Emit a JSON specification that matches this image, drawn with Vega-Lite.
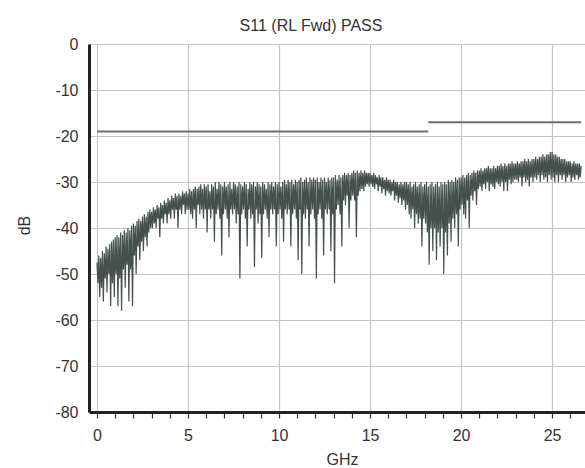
{
"$schema": "https://vega.github.io/schema/vega-lite/v6.json",
"width": 496, "height": 368,
"autosize": {"type": "none"},
"padding": {"left": 89, "top": 44, "right": 0, "bottom": 56},
"background": "white",
"title": {"text": "S11 (RL Fwd) PASS", "font": "Liberation Sans", "fontSize": 16, "fontWeight": "normal", "color": "#333", "dx": -26, "offset": 2},
"config": {"view": {"stroke": null}},
"datasets": {
"trace": [
{"f":0.00,"db":-47.5},{"f":0.05,"db":-52},{"f":0.10,"db":-46},{"f":0.15,"db":-55},{"f":0.20,"db":-46.5},{"f":0.25,"db":-53},{"f":0.30,"db":-45},{"f":0.35,"db":-56},{"f":0.40,"db":-45.5},{"f":0.45,"db":-51},{"f":0.50,"db":-44},{"f":0.55,"db":-54},{"f":0.60,"db":-44.5},{"f":0.65,"db":-50},{"f":0.70,"db":-43.5},{"f":0.75,"db":-57},{"f":0.80,"db":-43},{"f":0.85,"db":-52},{"f":0.90,"db":-42.5},{"f":0.95,"db":-55},
{"f":1.00,"db":-42},{"f":1.05,"db":-50},{"f":1.10,"db":-41.5},{"f":1.15,"db":-57},{"f":1.20,"db":-42},{"f":1.25,"db":-51},{"f":1.30,"db":-41},{"f":1.35,"db":-58},{"f":1.40,"db":-41.5},{"f":1.45,"db":-49},{"f":1.50,"db":-40.5},{"f":1.55,"db":-53},{"f":1.60,"db":-41},{"f":1.65,"db":-48},{"f":1.70,"db":-40},{"f":1.75,"db":-56},{"f":1.80,"db":-40.5},{"f":1.85,"db":-49},{"f":1.90,"db":-39.5},{"f":1.95,"db":-57},
{"f":2.00,"db":-39},{"f":2.05,"db":-46},{"f":2.10,"db":-39.5},{"f":2.15,"db":-50},{"f":2.20,"db":-38.5},{"f":2.25,"db":-44},{"f":2.30,"db":-38},{"f":2.35,"db":-47},{"f":2.40,"db":-38.5},{"f":2.45,"db":-43},{"f":2.50,"db":-37.5},{"f":2.55,"db":-45},{"f":2.60,"db":-37},{"f":2.65,"db":-42},{"f":2.70,"db":-37.5},{"f":2.75,"db":-44},{"f":2.80,"db":-36.5},{"f":2.85,"db":-41},{"f":2.90,"db":-36},{"f":2.95,"db":-40},
{"f":3.00,"db":-36.5},{"f":3.05,"db":-40},{"f":3.10,"db":-35.5},{"f":3.15,"db":-39},{"f":3.20,"db":-36},{"f":3.25,"db":-40},{"f":3.30,"db":-35},{"f":3.35,"db":-38},{"f":3.40,"db":-35.5},{"f":3.45,"db":-42},{"f":3.50,"db":-34.5},{"f":3.55,"db":-38},{"f":3.60,"db":-35},{"f":3.65,"db":-39},{"f":3.70,"db":-34},{"f":3.75,"db":-37},{"f":3.80,"db":-34.5},{"f":3.85,"db":-39},{"f":3.90,"db":-33.5},{"f":3.95,"db":-37},
{"f":4.00,"db":-34},{"f":4.05,"db":-38},{"f":4.10,"db":-33},{"f":4.15,"db":-36},{"f":4.20,"db":-33.5},{"f":4.25,"db":-38},{"f":4.30,"db":-32.5},{"f":4.35,"db":-36},{"f":4.40,"db":-33},{"f":4.45,"db":-40},{"f":4.50,"db":-32.5},{"f":4.55,"db":-36},{"f":4.60,"db":-33},{"f":4.65,"db":-37},{"f":4.70,"db":-32},{"f":4.75,"db":-35},{"f":4.80,"db":-32.5},{"f":4.85,"db":-37},{"f":4.90,"db":-32},{"f":4.95,"db":-36},
{"f":5.00,"db":-32.5},{"f":5.05,"db":-36},{"f":5.10,"db":-31.5},{"f":5.15,"db":-37},{"f":5.20,"db":-32},{"f":5.25,"db":-38},{"f":5.30,"db":-31.5},{"f":5.35,"db":-36},{"f":5.40,"db":-31},{"f":5.45,"db":-40},{"f":5.50,"db":-31.5},{"f":5.55,"db":-35},{"f":5.60,"db":-31},{"f":5.65,"db":-37},{"f":5.70,"db":-30.5},{"f":5.75,"db":-36},{"f":5.80,"db":-31.5},{"f":5.85,"db":-38},{"f":5.90,"db":-30.5},{"f":5.95,"db":-36},
{"f":6.00,"db":-31},{"f":6.05,"db":-41},{"f":6.10,"db":-30.5},{"f":6.15,"db":-36},{"f":6.20,"db":-32},{"f":6.25,"db":-38},{"f":6.30,"db":-30.5},{"f":6.35,"db":-36},{"f":6.40,"db":-31},{"f":6.45,"db":-43},{"f":6.50,"db":-30},{"f":6.55,"db":-37},{"f":6.60,"db":-31.5},{"f":6.65,"db":-36},{"f":6.70,"db":-30},{"f":6.75,"db":-38},{"f":6.80,"db":-30.5},{"f":6.85,"db":-46},{"f":6.90,"db":-31},{"f":6.95,"db":-37},
{"f":7.00,"db":-30},{"f":7.05,"db":-36},{"f":7.10,"db":-31},{"f":7.15,"db":-38},{"f":7.20,"db":-30.5},{"f":7.25,"db":-42},{"f":7.30,"db":-30},{"f":7.35,"db":-36},{"f":7.40,"db":-31.5},{"f":7.45,"db":-37},{"f":7.50,"db":-30},{"f":7.55,"db":-36},{"f":7.60,"db":-30.5},{"f":7.65,"db":-39},{"f":7.70,"db":-31},{"f":7.75,"db":-37},{"f":7.80,"db":-30},{"f":7.85,"db":-51},{"f":7.90,"db":-30.5},{"f":7.95,"db":-37},
{"f":8.00,"db":-31},{"f":8.05,"db":-36},{"f":8.10,"db":-30},{"f":8.15,"db":-38},{"f":8.20,"db":-30.5},{"f":8.25,"db":-44},{"f":8.30,"db":-31.5},{"f":8.35,"db":-36},{"f":8.40,"db":-30},{"f":8.45,"db":-38},{"f":8.50,"db":-30.5},{"f":8.55,"db":-37},{"f":8.60,"db":-30},{"f":8.65,"db":-48.5},{"f":8.70,"db":-31},{"f":8.75,"db":-36},{"f":8.80,"db":-30},{"f":8.85,"db":-39},{"f":8.90,"db":-30.5},{"f":8.95,"db":-37},
{"f":9.00,"db":-31},{"f":9.05,"db":-46.5},{"f":9.10,"db":-30},{"f":9.15,"db":-37},{"f":9.20,"db":-30.5},{"f":9.25,"db":-36},{"f":9.30,"db":-31.5},{"f":9.35,"db":-38},{"f":9.40,"db":-30},{"f":9.45,"db":-42},{"f":9.50,"db":-30.5},{"f":9.55,"db":-36},{"f":9.60,"db":-30},{"f":9.65,"db":-37},{"f":9.70,"db":-31},{"f":9.75,"db":-36},{"f":9.80,"db":-30},{"f":9.85,"db":-44},{"f":9.90,"db":-30.5},{"f":9.95,"db":-37},
{"f":10.00,"db":-30},{"f":10.05,"db":-36},{"f":10.10,"db":-31},{"f":10.15,"db":-38},{"f":10.20,"db":-30},{"f":10.25,"db":-43},{"f":10.30,"db":-29.5},{"f":10.35,"db":-36},{"f":10.40,"db":-30.5},{"f":10.45,"db":-37},{"f":10.50,"db":-29.5},{"f":10.55,"db":-36},{"f":10.60,"db":-30},{"f":10.65,"db":-44},{"f":10.70,"db":-29.5},{"f":10.75,"db":-37},{"f":10.80,"db":-30.5},{"f":10.85,"db":-36},{"f":10.90,"db":-29.5},{"f":10.95,"db":-38},
{"f":11.00,"db":-30},{"f":11.05,"db":-47},{"f":11.10,"db":-29.5},{"f":11.15,"db":-36},{"f":11.20,"db":-29},{"f":11.25,"db":-50},{"f":11.30,"db":-30},{"f":11.35,"db":-37},{"f":11.40,"db":-29.5},{"f":11.45,"db":-38},{"f":11.50,"db":-29},{"f":11.55,"db":-36},{"f":11.60,"db":-30},{"f":11.65,"db":-44},{"f":11.70,"db":-29},{"f":11.75,"db":-37},{"f":11.80,"db":-29.5},{"f":11.85,"db":-36},{"f":11.90,"db":-29},{"f":11.95,"db":-38},
{"f":12.00,"db":-29.5},{"f":12.05,"db":-51},{"f":12.10,"db":-29},{"f":12.15,"db":-37},{"f":12.20,"db":-30},{"f":12.25,"db":-36},{"f":12.30,"db":-29},{"f":12.35,"db":-38},{"f":12.40,"db":-29.5},{"f":12.45,"db":-46},{"f":12.50,"db":-29},{"f":12.55,"db":-36},{"f":12.60,"db":-30},{"f":12.65,"db":-37},{"f":12.70,"db":-29},{"f":12.75,"db":-36},{"f":12.80,"db":-29.5},{"f":12.85,"db":-45},{"f":12.90,"db":-29},{"f":12.95,"db":-37},
{"f":13.00,"db":-29},{"f":13.05,"db":-52},{"f":13.10,"db":-28.5},{"f":13.15,"db":-36},{"f":13.20,"db":-29.5},{"f":13.25,"db":-35},{"f":13.30,"db":-28.5},{"f":13.35,"db":-37},{"f":13.40,"db":-29},{"f":13.45,"db":-44},{"f":13.50,"db":-28.5},{"f":13.55,"db":-34},{"f":13.60,"db":-28},{"f":13.65,"db":-35},{"f":13.70,"db":-28.5},{"f":13.75,"db":-33},{"f":13.80,"db":-28},{"f":13.85,"db":-40},{"f":13.90,"db":-28.5},{"f":13.95,"db":-34},
{"f":14.00,"db":-28},{"f":14.05,"db":-33},{"f":14.10,"db":-27.5},{"f":14.15,"db":-34},{"f":14.20,"db":-28},{"f":14.25,"db":-42},{"f":14.30,"db":-27.5},{"f":14.35,"db":-33},{"f":14.40,"db":-28},{"f":14.45,"db":-32},{"f":14.50,"db":-27.5},{"f":14.55,"db":-31.5},{"f":14.60,"db":-28},{"f":14.65,"db":-32},{"f":14.70,"db":-27.5},{"f":14.75,"db":-31},{"f":14.80,"db":-28},{"f":14.85,"db":-30.5},{"f":14.90,"db":-28},{"f":14.95,"db":-31},
{"f":15.00,"db":-28},{"f":15.05,"db":-30.5},{"f":15.10,"db":-28.5},{"f":15.15,"db":-31},{"f":15.20,"db":-28},{"f":15.25,"db":-31.5},{"f":15.30,"db":-28.5},{"f":15.35,"db":-30.5},{"f":15.40,"db":-29},{"f":15.45,"db":-32},{"f":15.50,"db":-28.5},{"f":15.55,"db":-31},{"f":15.60,"db":-29},{"f":15.65,"db":-32.5},{"f":15.70,"db":-29},{"f":15.75,"db":-31.5},{"f":15.80,"db":-29.5},{"f":15.85,"db":-33},{"f":15.90,"db":-29},{"f":15.95,"db":-32},
{"f":16.00,"db":-29.5},{"f":16.05,"db":-32.5},{"f":16.10,"db":-29.5},{"f":16.15,"db":-33},{"f":16.20,"db":-30},{"f":16.25,"db":-32},{"f":16.30,"db":-29.5},{"f":16.35,"db":-34},{"f":16.40,"db":-30},{"f":16.45,"db":-33},{"f":16.50,"db":-30},{"f":16.55,"db":-34.5},{"f":16.60,"db":-30.5},{"f":16.65,"db":-33.5},{"f":16.70,"db":-30},{"f":16.75,"db":-35},{"f":16.80,"db":-30.5},{"f":16.85,"db":-34},{"f":16.90,"db":-30},{"f":16.95,"db":-36},
{"f":17.00,"db":-30},{"f":17.05,"db":-35},{"f":17.10,"db":-30.5},{"f":17.15,"db":-37},{"f":17.20,"db":-30},{"f":17.25,"db":-38},{"f":17.30,"db":-31},{"f":17.35,"db":-36},{"f":17.40,"db":-30.5},{"f":17.45,"db":-40},{"f":17.50,"db":-30},{"f":17.55,"db":-37},{"f":17.60,"db":-31},{"f":17.65,"db":-39},{"f":17.70,"db":-30.5},{"f":17.75,"db":-38},{"f":17.80,"db":-30},{"f":17.85,"db":-44},{"f":17.90,"db":-31},{"f":17.95,"db":-38},
{"f":18.00,"db":-30.5},{"f":18.05,"db":-39},{"f":18.10,"db":-30},{"f":18.15,"db":-41},{"f":18.20,"db":-31},{"f":18.25,"db":-48},{"f":18.30,"db":-30.5},{"f":18.35,"db":-40},{"f":18.40,"db":-30},{"f":18.45,"db":-45},{"f":18.50,"db":-31},{"f":18.55,"db":-40},{"f":18.60,"db":-30.5},{"f":18.65,"db":-47},{"f":18.70,"db":-30},{"f":18.75,"db":-41},{"f":18.80,"db":-31},{"f":18.85,"db":-44},{"f":18.90,"db":-30},{"f":18.95,"db":-40},
{"f":19.00,"db":-30.5},{"f":19.05,"db":-50},{"f":19.10,"db":-30},{"f":19.15,"db":-41},{"f":19.20,"db":-30.5},{"f":19.25,"db":-46},{"f":19.30,"db":-29.5},{"f":19.35,"db":-39},{"f":19.40,"db":-30},{"f":19.45,"db":-43},{"f":19.50,"db":-29.5},{"f":19.55,"db":-38},{"f":19.60,"db":-30},{"f":19.65,"db":-40},{"f":19.70,"db":-29},{"f":19.75,"db":-37},{"f":19.80,"db":-29.5},{"f":19.85,"db":-44},{"f":19.90,"db":-29},{"f":19.95,"db":-36},
{"f":20.00,"db":-29},{"f":20.05,"db":-35},{"f":20.10,"db":-28.5},{"f":20.15,"db":-37},{"f":20.20,"db":-29},{"f":20.25,"db":-38},{"f":20.30,"db":-28.5},{"f":20.35,"db":-34},{"f":20.40,"db":-28},{"f":20.45,"db":-40},{"f":20.50,"db":-28.5},{"f":20.55,"db":-33},{"f":20.60,"db":-28},{"f":20.65,"db":-34},{"f":20.70,"db":-27.5},{"f":20.75,"db":-32},{"f":20.80,"db":-28},{"f":20.85,"db":-35},{"f":20.90,"db":-27.5},{"f":20.95,"db":-31.5},
{"f":21.00,"db":-27.5},{"f":21.05,"db":-31},{"f":21.10,"db":-27},{"f":21.15,"db":-32},{"f":21.20,"db":-27.5},{"f":21.25,"db":-30.5},{"f":21.30,"db":-27},{"f":21.35,"db":-31.5},{"f":21.40,"db":-27},{"f":21.45,"db":-30},{"f":21.50,"db":-26.5},{"f":21.55,"db":-32},{"f":21.60,"db":-27},{"f":21.65,"db":-30.5},{"f":21.70,"db":-27},{"f":21.75,"db":-31},{"f":21.80,"db":-26.5},{"f":21.85,"db":-31.5},{"f":21.90,"db":-27},{"f":21.95,"db":-30},
{"f":22.00,"db":-26.5},{"f":22.05,"db":-30.5},{"f":22.10,"db":-26.5},{"f":22.15,"db":-31},{"f":22.20,"db":-26},{"f":22.25,"db":-30},{"f":22.30,"db":-26.5},{"f":22.35,"db":-32},{"f":22.40,"db":-26},{"f":22.45,"db":-30},{"f":22.50,"db":-26.5},{"f":22.55,"db":-32},{"f":22.60,"db":-26},{"f":22.65,"db":-29.5},{"f":22.70,"db":-26},{"f":22.75,"db":-30.5},{"f":22.80,"db":-25.5},{"f":22.85,"db":-30},{"f":22.90,"db":-26},{"f":22.95,"db":-29.5},
{"f":23.00,"db":-26},{"f":23.05,"db":-29.5},{"f":23.10,"db":-25.5},{"f":23.15,"db":-30},{"f":23.20,"db":-26},{"f":23.25,"db":-29},{"f":23.30,"db":-25.5},{"f":23.35,"db":-31},{"f":23.40,"db":-25.5},{"f":23.45,"db":-29},{"f":23.50,"db":-25},{"f":23.55,"db":-30},{"f":23.60,"db":-25.5},{"f":23.65,"db":-29.5},{"f":23.70,"db":-25},{"f":23.75,"db":-31},{"f":23.80,"db":-25.5},{"f":23.85,"db":-29},{"f":23.90,"db":-25},{"f":23.95,"db":-30},
{"f":24.00,"db":-25},{"f":24.05,"db":-29},{"f":24.10,"db":-24.5},{"f":24.15,"db":-29.5},{"f":24.20,"db":-25},{"f":24.25,"db":-28.5},{"f":24.30,"db":-24.5},{"f":24.35,"db":-30},{"f":24.40,"db":-24.5},{"f":24.45,"db":-28.5},{"f":24.50,"db":-24},{"f":24.55,"db":-29.5},{"f":24.60,"db":-24.5},{"f":24.65,"db":-29},{"f":24.70,"db":-24},{"f":24.75,"db":-30},{"f":24.80,"db":-24},{"f":24.85,"db":-28.5},{"f":24.90,"db":-23.5},{"f":24.95,"db":-29.5},
{"f":25.00,"db":-23.5},{"f":25.05,"db":-29},{"f":25.10,"db":-24},{"f":25.15,"db":-30},{"f":25.20,"db":-24},{"f":25.25,"db":-28.5},{"f":25.30,"db":-24.5},{"f":25.35,"db":-30},{"f":25.40,"db":-24.5},{"f":25.45,"db":-28.5},{"f":25.50,"db":-25},{"f":25.55,"db":-29.5},{"f":25.60,"db":-25},{"f":25.65,"db":-28.5},{"f":25.70,"db":-25},{"f":25.75,"db":-30},{"f":25.80,"db":-25.5},{"f":25.85,"db":-29},{"f":25.90,"db":-25.5},{"f":25.95,"db":-28.5},
{"f":26.00,"db":-25.5},{"f":26.05,"db":-30},{"f":26.10,"db":-26},{"f":26.15,"db":-29},{"f":26.20,"db":-25.5},{"f":26.25,"db":-29.5},{"f":26.30,"db":-26},{"f":26.35,"db":-28.5},{"f":26.40,"db":-26},{"f":26.45,"db":-29.5},{"f":26.50,"db":-26},{"f":26.55,"db":-29},{"f":26.60,"db":-26.5}
],
"limits": [
{"f0": 0, "f1": 18.2, "db": -19},
{"f0": 18.2, "f1": 26.6, "db": -17}
]
},
"layer": [
{
"data": {"name": "limits"},
"mark": {"type": "rule", "color": "#6e6e6e", "strokeWidth": 2},
"encoding": {
"x": {"field": "f0", "type": "quantitative",
  "scale": {"domain": [-0.44, 26.81], "nice": false, "zero": false},
  "axis": {
    "title": "GHz", "titleFont": "Liberation Sans", "titleFontSize": 16, "titleFontWeight": "normal", "titleColor": "#333",
    "titleX": 253, "titleY": 39, "titleBaseline": "top",
    "values": [0,1,2,3,4,5,6,7,8,9,10,11,12,13,14,15,16,17,18,19,20,21,22,23,24,25,26],
    "tickCount": 100,
    "labelExpr": "datum.value % 5 === 0 ? '' + datum.value : ''",
    "labelOverlap": false,
    "labelFont": "Liberation Sans", "labelFontSize": 16, "labelColor": "#333", "labelPadding": 9,
    "grid": true, "gridColor": "#c4c4c4", "gridWidth": 1.2,
    "gridOpacity": {"condition": {"test": "datum.value % 5 !== 0", "value": 0}, "value": 1},
    "ticks": true, "tickSize": 6, "tickColor": "#333", "tickWidth": 1.2,
    "domain": true, "domainColor": "#222", "domainWidth": 3
  }},
"x2": {"field": "f1"},
"y": {"field": "db", "type": "quantitative",
  "scale": {"domain": [-80, 0], "nice": false},
  "axis": {
    "title": "dB", "titleFont": "Liberation Sans", "titleFontSize": 16, "titleFontWeight": "normal", "titleColor": "#333",
    "titleX": -57, "titleY": 181,
    "values": [0,-10,-20,-30,-40,-50,-60,-70,-80],
    "tickCount": 100,
    "labelExpr": "'' + datum.value",
    "labelOverlap": false,
    "labelFont": "Liberation Sans", "labelFontSize": 16, "labelColor": "#333", "labelPadding": 11,
    "grid": true, "gridColor": "#c4c4c4", "gridWidth": 1.2,
    "ticks": false,
    "domain": true, "domainColor": "#222", "domainWidth": 3
  }}
}
},
{
"data": {"name": "trace"},
"mark": {"type": "line", "color": "#44504c", "strokeWidth": 1.2},
"encoding": {
"x": {"field": "f", "type": "quantitative"},
"y": {"field": "db", "type": "quantitative"}
}
}
]
}
